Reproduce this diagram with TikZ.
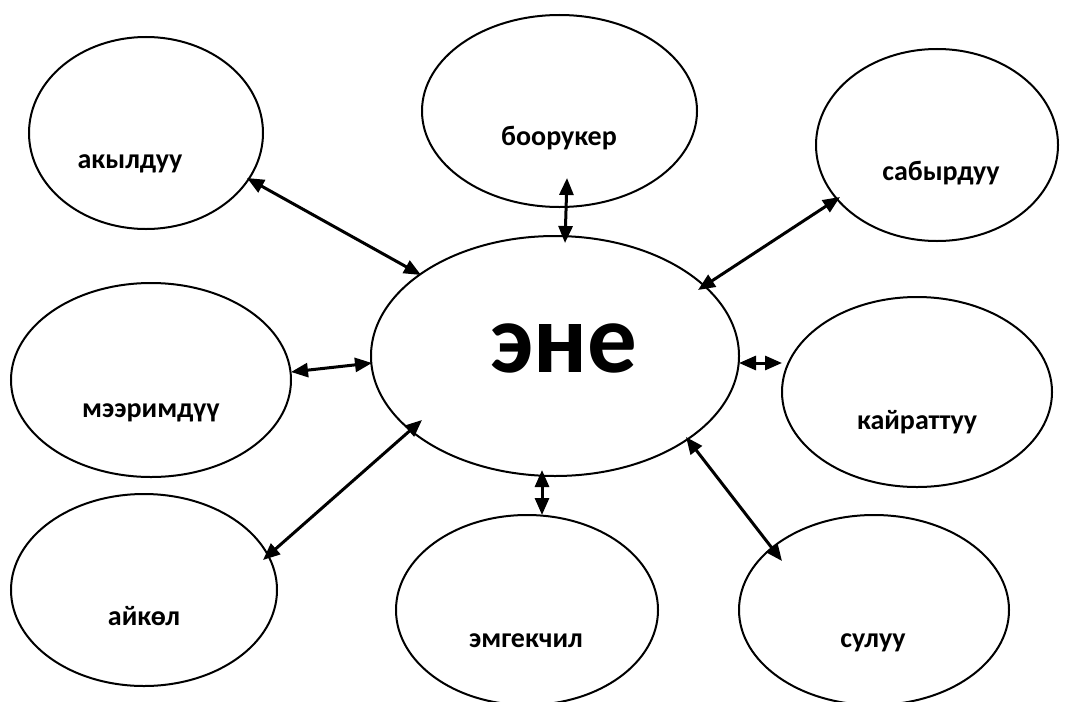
\documentclass[tikz,border=0pt]{standalone}
\usepackage{fontspec}
\setmainfont{Carlito}
\usetikzlibrary{arrows.meta,shapes.geometric}
\begin{document}
\begin{tikzpicture}[x=1pt,y=-1pt,
  oval/.style={draw=black,line width=2pt,ellipse,inner sep=0pt},
  lbl/.style={anchor=base,inner sep=0pt,font=\bfseries\fontsize{28}{30}\selectfont},
  big/.style={anchor=base,inner sep=0pt,font=\bfseries\fontsize{99}{105}\selectfont},
  link/.style={line width=3pt,{Triangle[length=17pt,width=14pt]}-{Triangle[length=17pt,width=14pt]}}
]
\useasboundingbox (0,0) rectangle (1075,701);
\fill[white] (0,0) rectangle (1075,701);
% ellipses
\node[oval,minimum width=368pt,minimum height=240pt] (ene) at (555,356) {};
\node[oval,minimum width=234pt,minimum height=192pt] (akyl) at (146,133) {};
\node[oval,minimum width=275pt,minimum height=192pt] (boor) at (559.5,111) {};
\node[oval,minimum width=242pt,minimum height=192pt] (sabyr) at (937,145) {};
\node[oval,minimum width=280pt,minimum height=194pt] (meer) at (151,380) {};
\node[oval,minimum width=270pt,minimum height=190pt] (kair) at (917,392) {};
\node[oval,minimum width=266pt,minimum height=192pt] (aikol) at (144,590) {};
\node[oval,minimum width=262pt,minimum height=190pt] (emgek) at (527,610) {};
\node[oval,minimum width=270pt,minimum height=190pt] (suluu) at (874,610) {};
% labels
\node[big] (eneT) at (564,372) {эне};
\node[lbl] (akylT) at (130,168) {акылдуу};
\node[lbl] (boorT) at (559,145) {боорукер};
\node[lbl] (sabyrT) at (941,180) {сабырдуу};
\node[lbl] (meerT) at (151,417) {мээримдүү};
\node[lbl] (kairT) at (917,429) {кайраттуу};
\node[lbl] (aikolT) at (144,625) {айкөл};
\node[lbl] (emgekT) at (526,647) {эмгекчил};
\node[lbl] (suluuT) at (873,647) {сулуу};
% connector end points
\coordinate (p1a) at (247,178); \coordinate (p1b) at (421,275);
\coordinate (p2a) at (567,178); \coordinate (p2b) at (565,243);
\coordinate (p3a) at (840,197); \coordinate (p3b) at (698,290);
\coordinate (p4a) at (291,372); \coordinate (p4b) at (372,363);
\coordinate (p5a) at (739,363); \coordinate (p5b) at (782,363);
\coordinate (p6a) at (263,560); \coordinate (p6b) at (422,420);
\coordinate (p7a) at (542,470); \coordinate (p7b) at (542,515);
\coordinate (p8a) at (686,437); \coordinate (p8b) at (782,561);
% connectors
\draw[link] (p1a) -- (p1b);
\draw[link] (p2a) -- (p2b);
\draw[link] (p3a) -- (p3b);
\draw[link] (p4a) -- (p4b);
\draw[link] (p5a) -- (p5b);
\draw[link] (p6a) -- (p6b);
\draw[link] (p7a) -- (p7b);
\draw[link] (p8a) -- (p8b);
\end{tikzpicture}
\end{document}
